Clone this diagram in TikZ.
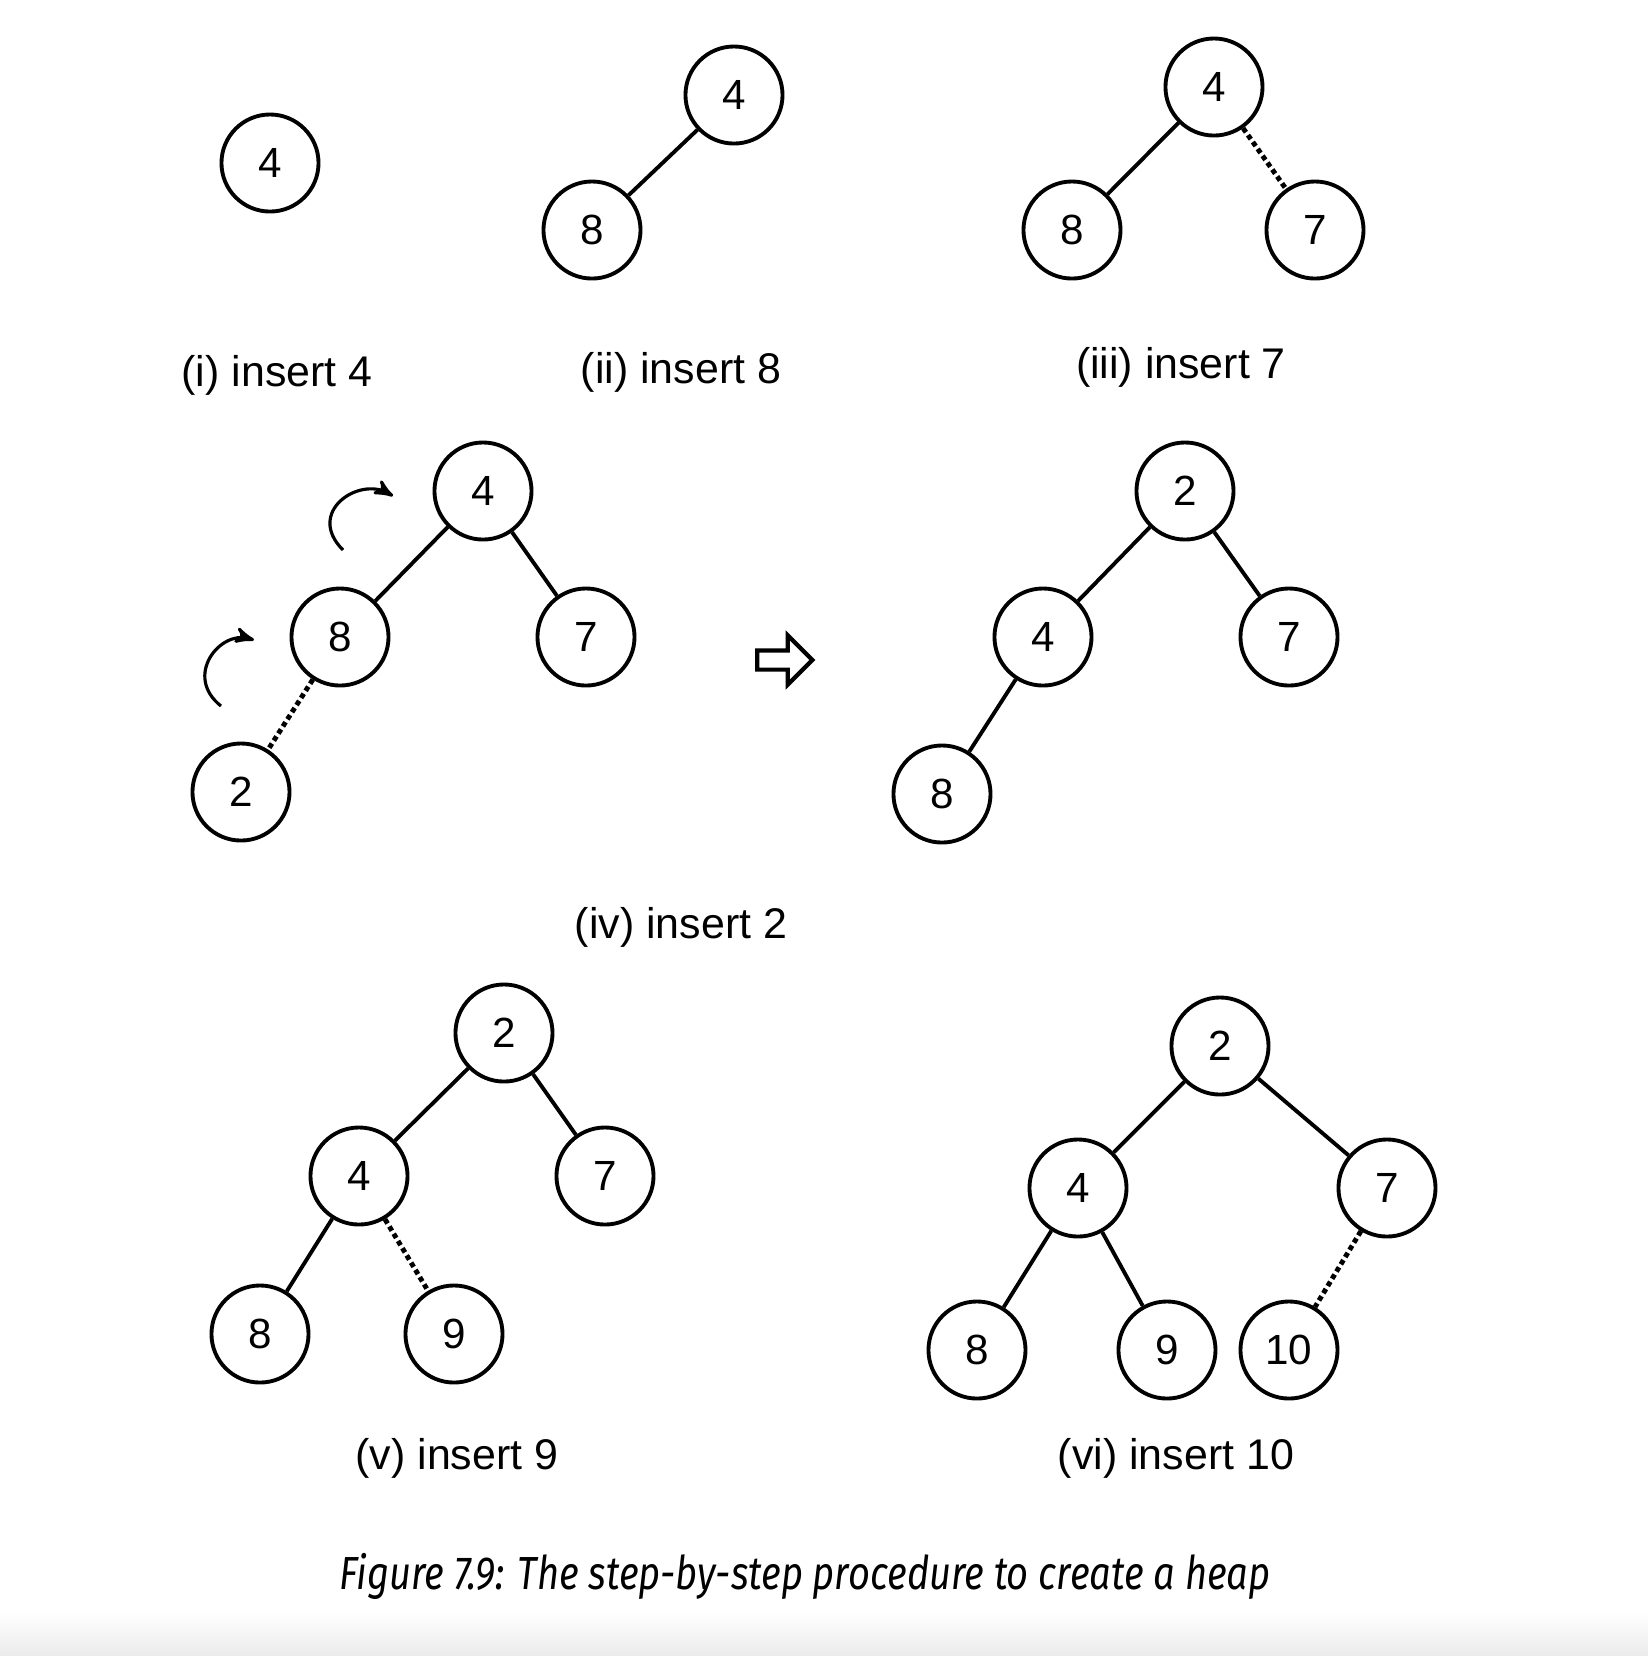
\documentclass[tikz,border=0pt]{standalone}
\usepackage{fontspec}
\setmainfont{Liberation Sans}
\newfontfamily\capfont[FakeStretch=0.82]{Fira Sans}
\usepackage{tikz}
\usetikzlibrary{arrows,positioning,shapes}

\begin{document}
\begin{tikzpicture}[x=0.01cm,y=-0.01cm,
  vertex/.style={draw,circle,line width=1.1pt,minimum size=0.97cm,inner sep=0pt,font=\fontsize{12}{14}\selectfont},
  link/.style={line width=1.1pt},
  weak/.style={line width=1.4pt,densely dotted},
  turn/.style={->,>=stealth',line width=0.9pt},
  sublabel/.style={font=\fontsize{12.2}{14}\selectfont},
  follows/.style={draw,single arrow,line width=1.2pt,minimum height=0.55cm,inner sep=0.075cm,single arrow head extend=0.15cm},
  figcaption/.style={font=\capfont\itshape\fontsize{13.2}{15}\selectfont}]

    \useasboundingbox (0,0) rectangle (1648,1656);
    \shade[top color=white,bottom color=black!8] (0,1612) rectangle (1648,1656);

    % (i)
    \node[vertex] (i4) at (270,163) {4};
    \node[sublabel] (ilab) at (277,375) {(i) insert 4};

    % (ii)
    \node[vertex] (ii4) at (734,95) {4};
    \node[vertex] (ii8) at (592,230) {8};
    \draw[link] (ii4) -- (ii8);
    \node[sublabel] (iilab) at (681,372) {(ii) insert 8};

    % (iii)
    \node[vertex] (iii4) at (1214,87) {4};
    \node[vertex] (iii8) at (1072,230) {8};
    \node[vertex] (iii7) at (1315,230) {7};
    \draw[link] (iii4) -- (iii8);
    \draw[weak] (iii4) -- (iii7);
    \node[sublabel] (iiilab) at (1181,367) {(iii) insert 7};

    % (iv) before and after
    \node[vertex] (iv4) at (483,491) {4};
    \node[vertex] (iv8) at (340,637) {8};
    \node[vertex] (iv7) at (586,637) {7};
    \node[vertex] (iv2) at (241,792) {2};
    \draw[link] (iv4) -- (iv8);
    \draw[link] (iv4) -- (iv7);
    \draw[weak] (iv8) -- (iv2);

    \coordinate (upA) at (343,550);
    \coordinate (upB) at (393,496);
    \coordinate (loA) at (221,706);
    \coordinate (loB) at (254,640);
    \draw[turn] (upA) .. controls +(-38,-38) and +(-34,-20) .. (upB);
    \draw[turn] (loA) .. controls +(-38,-30) and +(-34,-10) .. (loB);

    \node[follows] (swap) at (780,660) {};

    \node[vertex] (ivb2) at (1185,491) {2};
    \node[vertex] (ivb4) at (1043,637) {4};
    \node[vertex] (ivb7) at (1289,637) {7};
    \node[vertex] (ivb8) at (942,794) {8};
    \draw[link] (ivb2) -- (ivb4);
    \draw[link] (ivb2) -- (ivb7);
    \draw[link] (ivb4) -- (ivb8);
    \node[sublabel] (ivlab) at (681,927) {(iv) insert 2};

    % (v)
    \node[vertex] (v2) at (504,1033) {2};
    \node[vertex] (v4) at (359,1176) {4};
    \node[vertex] (v7) at (605,1176) {7};
    \node[vertex] (v8) at (260,1334) {8};
    \node[vertex] (v9) at (454,1334) {9};
    \draw[link] (v2) -- (v4);
    \draw[link] (v2) -- (v7);
    \draw[link] (v4) -- (v8);
    \draw[weak] (v4) -- (v9);
    \node[sublabel] (vlab) at (457,1458) {(v) insert 9};

    % (vi)
    \node[vertex] (vi2) at (1220,1046) {2};
    \node[vertex] (vi4) at (1078,1188) {4};
    \node[vertex] (vi7) at (1387,1188) {7};
    \node[vertex] (vi8) at (977,1350) {8};
    \node[vertex] (vi9) at (1167,1350) {9};
    \node[vertex] (vi10) at (1289,1350) {10};
    \draw[link] (vi2) -- (vi4);
    \draw[link] (vi2) -- (vi7);
    \draw[link] (vi4) -- (vi8);
    \draw[link] (vi4) -- (vi9);
    \draw[weak] (vi7) -- (vi10);
    \node[sublabel] (vilab) at (1176,1458) {(vi) insert 10};

    \node[figcaption] (caption) at (805,1576) {Figure 7.9: The step-by-step procedure to create a heap};
\end{tikzpicture}
\end{document}
